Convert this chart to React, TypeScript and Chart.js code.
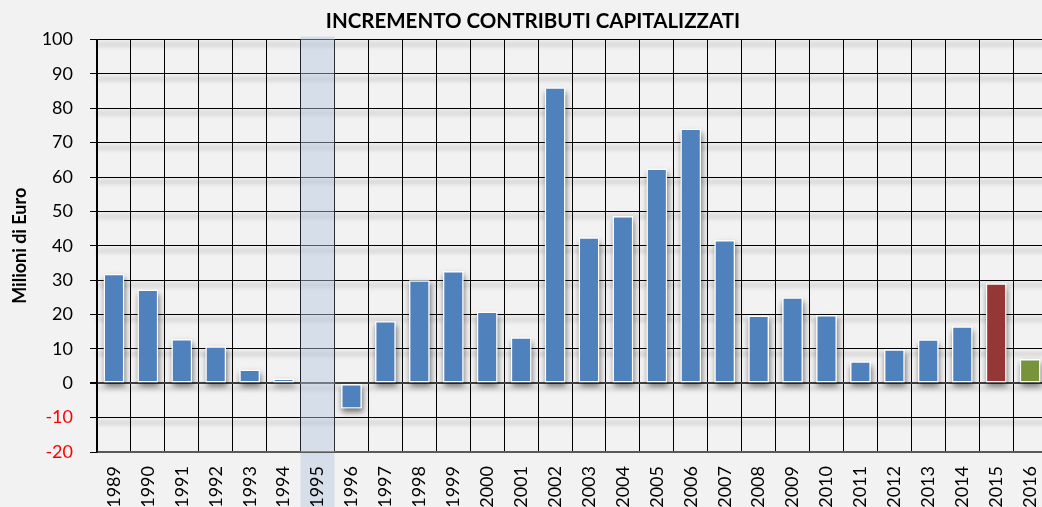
import React, { useEffect, useRef } from "react";
import { Chart, registerables } from "chart.js";

Chart.register(...registerables);

const years = [
  "1989", "1990", "1991", "1992", "1993", "1994", "1995", "1996", "1997", "1998",
  "1999", "2000", "2001", "2002", "2003", "2004", "2005", "2006", "2007", "2008",
  "2009", "2010", "2011", "2012", "2013", "2014", "2015", "2016",
];

const values: (number | null)[] = [
  31.8, 27.2, 12.8, 10.7, 3.9, 1.3, null, -7.3, 18.0, 29.9,
  32.6, 20.8, 13.3, 86.0, 42.4, 48.6, 62.4, 74.0, 41.6, 19.6,
  24.9, 19.8, 6.3, 9.8, 12.7, 16.5, 29.0, 7.0,
];

const barColors = [
  "#4f81bd", "#4f81bd", "#4f81bd", "#4f81bd", "#4f81bd", "#4f81bd", "#4f81bd", "#4f81bd",
  "#4f81bd", "#4f81bd", "#4f81bd", "#4f81bd", "#4f81bd", "#4f81bd", "#4f81bd", "#4f81bd",
  "#4f81bd", "#4f81bd", "#4f81bd", "#4f81bd", "#4f81bd", "#4f81bd", "#4f81bd", "#4f81bd",
  "#4f81bd", "#4f81bd", "#953735", "#77933c",
];

const highlightedYear = "1995";
const yMin = -20;
const yMax = 100;
const yStep = 10;
const chartTitle = "INCREMENTO CONTRIBUTI CAPITALIZZATI";
const yTitle = "Milioni di Euro";

const W = 1066;
const H = 507;
const BAND = "rgba(180,199,222,0.45)";

function bandRect(chart: any) {
  const x = chart.scales.x;
  const idx = years.indexOf(highlightedYear);
  const half = (x.getPixelForValue(1) - x.getPixelForValue(0)) / 2;
  const cx = x.getPixelForValue(idx);
  return { left: cx - half, width: half * 2 };
}

const decorPlugin = {
  id: "decor",
  beforeDraw(chart: any) {
    const { ctx, chartArea, scales } = chart;
    const y = scales.y;
    // band part below the plot (under the tick labels)
    const b = bandRect(chart);
    ctx.save();
    ctx.fillStyle = BAND;
    ctx.fillRect(b.left, chartArea.bottom, b.width, chart.height - chartArea.bottom);
    ctx.restore();
    // soft shadows under horizontal grid lines
    ctx.save();
    ctx.filter = "blur(2px)";
    ctx.strokeStyle = "rgba(0,0,0,0.13)";
    ctx.lineWidth = 4;
    y.ticks.forEach((_t: any, i: number) => {
      const py = y.getPixelForTick(i) + 5;
      if (py > chartArea.bottom) return;
      ctx.beginPath();
      ctx.moveTo(chartArea.left, py);
      ctx.lineTo(chartArea.right, py);
      ctx.stroke();
    });
    ctx.restore();
  },
  beforeDatasetsDraw(chart: any) {
    const { ctx, chartArea } = chart;
    const b = bandRect(chart);
    ctx.save();
    ctx.fillStyle = BAND;
    ctx.fillRect(b.left, chartArea.top - 3, b.width, chartArea.bottom - chartArea.top + 3);
    ctx.restore();

    const meta = chart.getDatasetMeta(0);
    ctx.save();
    ctx.shadowColor = "rgba(0,0,0,0.55)";
    ctx.shadowBlur = 6;
    ctx.shadowOffsetX = 1;
    ctx.shadowOffsetY = 4;
    ctx.fillStyle = "#ffffff";
    meta.data.forEach((el: any, i: number) => {
      if (values[i] === null) return;
      const p = el.getProps(["x", "y", "base", "width"], true);
      const top = Math.min(p.y, p.base);
      const h = Math.abs(p.base - p.y);
      ctx.fillRect(p.x - p.width / 2, top, p.width, h);
    });
    ctx.restore();
  },
  afterDraw(chart: any) {
    const { ctx } = chart;
    ctx.save();
    ctx.font = "bold 20.5px Lato";
    ctx.fillStyle = "#000";
    ctx.textAlign = "center";
    ctx.textBaseline = "middle";
    ctx.fillText(chartTitle, 533, 21);
    ctx.restore();
  },
};

export default function App() {
  const ref = useRef<HTMLCanvasElement | null>(null);

  useEffect(() => {
    if (!ref.current) return;
    Chart.defaults.font.family = "Lato";
    const chart = new Chart(ref.current, {
      type: "bar",
      data: {
        labels: years,
        datasets: [
          {
            label: "Incremento",
            data: values,
            backgroundColor: barColors,
            borderColor: "#ffffff",
            borderWidth: 1.2,
            borderSkipped: false,
            categoryPercentage: 1,
            barPercentage: 0.6,
          },
        ],
      },
      options: {
        responsive: false,
        animation: false,
        devicePixelRatio: 1,
        layout: { padding: { left: 0, right: W - 1049, top: 39.5, bottom: 0 } },
        plugins: {
          legend: { display: false },
          tooltip: { enabled: false },
          title: { display: false, text: chartTitle },
        },
        scales: {
          x: {
            offset: true,
            grid: {
              offset: true,
              color: "#000",
              lineWidth: 1,
              drawTicks: false,
            },
            border: { display: true, color: "#595959", width: 2 },
            ticks: {
              autoSkip: false,
              minRotation: 90,
              maxRotation: 90,
              padding: 14,
              color: "#000",
              font: { size: 18, family: "Lato" },
            },
            afterFit(scale: any) {
              scale.height = 55;
            },
          },
          y: {
            min: yMin,
            max: yMax,
            ticks: {
              stepSize: yStep,
              padding: 17,
              color: (c: any) => (c.tick && c.tick.value < 0 ? "#ff0000" : "#000"),
              font: { size: 18, family: "Lato" },
            },
            grid: {
              color: (c: any) => (c.tick && c.tick.value === 0 ? "#404040" : "#000"),
              lineWidth: (c: any) => (c.tick && c.tick.value === 0 ? 2 : 1),
              drawTicks: true,
              tickLength: 7,
              tickColor: "#000",
            },
            border: { display: true, color: "#000", width: 1.5 },
            title: {
              display: true,
              text: yTitle,
              color: "#000",
              font: { size: 18, weight: "bold", family: "Lato", lineHeight: 1.2 },
              padding: { top: 9, bottom: 0 },
            },
            afterFit(scale: any) {
              scale.width = 97;
            },
          },
        },
      },
      plugins: [decorPlugin],
    });
    return () => chart.destroy();
  }, []);

  return (
    <div
      style={{
        position: "fixed",
        left: 0,
        top: 0,
        width: W,
        height: H,
        overflow: "hidden",
        background: "#f2f2f2",
      }}
    >
      <canvas ref={ref} width={W} height={H} style={{ display: "block", width: W, height: H }} />
    </div>
  );
}
